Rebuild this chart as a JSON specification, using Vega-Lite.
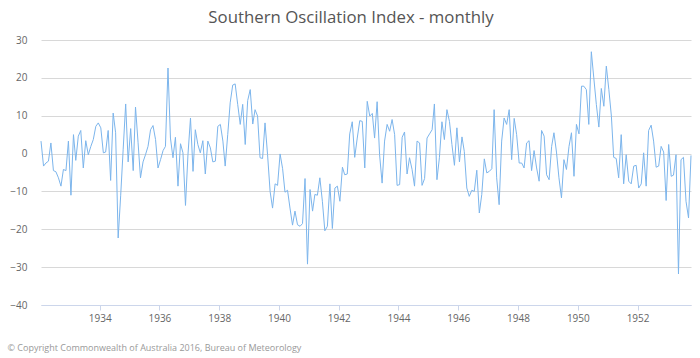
{
  "$schema": "https://vega.github.io/schema/vega-lite/v6.json",
  "width": 650,
  "height": 265,
  "autosize": {"type": "none"},
  "padding": {"left": 41, "top": 40, "right": 9, "bottom": 53},
  "background": "white",
  "title": {"text": "Southern Oscillation Index - monthly", "font": "Open Sans", "fontSize": 16.8, "fontWeight": "normal", "color": "#555555", "anchor": "middle", "baseline": "alphabetic", "offset": 9, "dy": 14, "dx": -15},
  "datasets": {
    "soi": [
      {"date":"1932-01-15","soi":3.3},{"date":"1932-02-15","soi":-3.3},{"date":"1932-03-15","soi":-2.5},{"date":"1932-04-15","soi":-2.0},{"date":"1932-05-15","soi":2.8},{"date":"1932-06-15","soi":-4.5},{"date":"1932-07-15","soi":-4.8},{"date":"1932-08-15","soi":-6.4},{"date":"1932-09-15","soi":-8.6},{"date":"1932-10-15","soi":-4.2},{"date":"1932-11-15","soi":-4.5},{"date":"1932-12-15","soi":3.3},
      {"date":"1933-01-15","soi":-11.0},{"date":"1933-02-15","soi":5.0},{"date":"1933-03-15","soi":-1.8},{"date":"1933-04-15","soi":4.6},{"date":"1933-05-15","soi":6.1},{"date":"1933-06-15","soi":-3.8},{"date":"1933-07-15","soi":3.4},{"date":"1933-08-15","soi":-0.3},{"date":"1933-09-15","soi":1.9},{"date":"1933-10-15","soi":3.7},{"date":"1933-11-15","soi":7.2},{"date":"1933-12-15","soi":8.1},
      {"date":"1934-01-15","soi":6.8},{"date":"1934-02-15","soi":0.2},{"date":"1934-03-15","soi":0.4},{"date":"1934-04-15","soi":6.1},{"date":"1934-05-15","soi":-7.1},{"date":"1934-06-15","soi":10.7},{"date":"1934-07-15","soi":5.5},{"date":"1934-08-15","soi":-22.3},{"date":"1934-09-15","soi":-11.0},{"date":"1934-10-15","soi":1.0},{"date":"1934-11-15","soi":13.1},{"date":"1934-12-15","soi":-2.2},
      {"date":"1935-01-15","soi":6.6},{"date":"1935-02-15","soi":-4.5},{"date":"1935-03-15","soi":12.3},{"date":"1935-04-15","soi":3.0},{"date":"1935-05-15","soi":-6.4},{"date":"1935-06-15","soi":-2.2},{"date":"1935-07-15","soi":-0.3},{"date":"1935-08-15","soi":1.9},{"date":"1935-09-15","soi":6.3},{"date":"1935-10-15","soi":7.4},{"date":"1935-11-15","soi":3.7},{"date":"1935-12-15","soi":-3.8},
      {"date":"1936-01-15","soi":-1.6},{"date":"1936-02-15","soi":0.8},{"date":"1936-03-15","soi":1.9},{"date":"1936-04-15","soi":22.6},{"date":"1936-05-15","soi":4.1},{"date":"1936-06-15","soi":-1.1},{"date":"1936-07-15","soi":4.3},{"date":"1936-08-15","soi":-8.6},{"date":"1936-09-15","soi":2.6},{"date":"1936-10-15","soi":0.2},{"date":"1936-11-15","soi":-13.7},{"date":"1936-12-15","soi":-0.3},
      {"date":"1937-01-15","soi":9.4},{"date":"1937-02-15","soi":-4.7},{"date":"1937-03-15","soi":6.3},{"date":"1937-04-15","soi":2.4},{"date":"1937-05-15","soi":0.2},{"date":"1937-06-15","soi":3.4},{"date":"1937-07-15","soi":-5.4},{"date":"1937-08-15","soi":3.3},{"date":"1937-09-15","soi":1.5},{"date":"1937-10-15","soi":-2.2},{"date":"1937-11-15","soi":-2.0},{"date":"1937-12-15","soi":7.2},
      {"date":"1938-01-15","soi":7.7},{"date":"1938-02-15","soi":3.3},{"date":"1938-03-15","soi":-3.3},{"date":"1938-04-15","soi":5.0},{"date":"1938-05-15","soi":13.4},{"date":"1938-06-15","soi":18.1},{"date":"1938-07-15","soi":18.4},{"date":"1938-08-15","soi":13.0},{"date":"1938-09-15","soi":7.7},{"date":"1938-10-15","soi":13.0},{"date":"1938-11-15","soi":2.4},{"date":"1938-12-15","soi":14.0},
      {"date":"1939-01-15","soi":16.9},{"date":"1939-02-15","soi":7.8},{"date":"1939-03-15","soi":11.6},{"date":"1939-04-15","soi":9.9},{"date":"1939-05-15","soi":-1.1},{"date":"1939-06-15","soi":-1.3},{"date":"1939-07-15","soi":8.1},{"date":"1939-08-15","soi":-0.3},{"date":"1939-09-15","soi":-10.0},{"date":"1939-10-15","soi":-14.4},{"date":"1939-11-15","soi":-8.0},{"date":"1939-12-15","soi":-8.4},
      {"date":"1940-01-15","soi":-0.1},{"date":"1940-02-15","soi":-4.0},{"date":"1940-03-15","soi":-10.2},{"date":"1940-04-15","soi":-9.7},{"date":"1940-05-15","soi":-14.4},{"date":"1940-06-15","soi":-18.9},{"date":"1940-07-15","soi":-15.2},{"date":"1940-08-15","soi":-18.8},{"date":"1940-09-15","soi":-19.2},{"date":"1940-10-15","soi":-18.5},{"date":"1940-11-15","soi":-6.6},{"date":"1940-12-15","soi":-29.2},
      {"date":"1941-01-15","soi":-9.5},{"date":"1941-02-15","soi":-15.2},{"date":"1941-03-15","soi":-10.8},{"date":"1941-04-15","soi":-11.0},{"date":"1941-05-15","soi":-6.4},{"date":"1941-06-15","soi":-12.6},{"date":"1941-07-15","soi":-20.4},{"date":"1941-08-15","soi":-19.2},{"date":"1941-09-15","soi":-8.0},{"date":"1941-10-15","soi":-19.8},{"date":"1941-11-15","soi":-9.1},{"date":"1941-12-15","soi":-8.6},
      {"date":"1942-01-15","soi":-12.6},{"date":"1942-02-15","soi":-3.6},{"date":"1942-03-15","soi":-5.6},{"date":"1942-04-15","soi":-5.4},{"date":"1942-05-15","soi":5.2},{"date":"1942-06-15","soi":8.4},{"date":"1942-07-15","soi":-1.0},{"date":"1942-08-15","soi":4.1},{"date":"1942-09-15","soi":8.7},{"date":"1942-10-15","soi":8.5},{"date":"1942-11-15","soi":-3.8},{"date":"1942-12-15","soi":13.8},
      {"date":"1943-01-15","soi":9.9},{"date":"1943-02-15","soi":10.6},{"date":"1943-03-15","soi":4.1},{"date":"1943-04-15","soi":13.7},{"date":"1943-05-15","soi":-0.3},{"date":"1943-06-15","soi":-7.8},{"date":"1943-07-15","soi":3.3},{"date":"1943-08-15","soi":7.7},{"date":"1943-09-15","soi":5.9},{"date":"1943-10-15","soi":9.0},{"date":"1943-11-15","soi":5.0},{"date":"1943-12-15","soi":-8.4},
      {"date":"1944-01-15","soi":-8.2},{"date":"1944-02-15","soi":4.3},{"date":"1944-03-15","soi":5.7},{"date":"1944-04-15","soi":-5.4},{"date":"1944-05-15","soi":-1.1},{"date":"1944-06-15","soi":-4.2},{"date":"1944-07-15","soi":-8.6},{"date":"1944-08-15","soi":3.3},{"date":"1944-09-15","soi":2.8},{"date":"1944-10-15","soi":-8.4},{"date":"1944-11-15","soi":-6.6},{"date":"1944-12-15","soi":4.1},
      {"date":"1945-01-15","soi":5.2},{"date":"1945-02-15","soi":6.3},{"date":"1945-03-15","soi":13.1},{"date":"1945-04-15","soi":-6.9},{"date":"1945-05-15","soi":-1.1},{"date":"1945-06-15","soi":8.4},{"date":"1945-07-15","soi":3.7},{"date":"1945-08-15","soi":11.6},{"date":"1945-09-15","soi":8.5},{"date":"1945-10-15","soi":2.4},{"date":"1945-11-15","soi":-3.1},{"date":"1945-12-15","soi":6.8},
      {"date":"1946-01-15","soi":-2.2},{"date":"1946-02-15","soi":4.4},{"date":"1946-03-15","soi":0.6},{"date":"1946-04-15","soi":-9.1},{"date":"1946-05-15","soi":-11.3},{"date":"1946-06-15","soi":-9.7},{"date":"1946-07-15","soi":-10.0},{"date":"1946-08-15","soi":-4.4},{"date":"1946-09-15","soi":-15.7},{"date":"1946-10-15","soi":-10.8},{"date":"1946-11-15","soi":-1.4},{"date":"1946-12-15","soi":-5.1},
      {"date":"1947-01-15","soi":-4.7},{"date":"1947-02-15","soi":-4.0},{"date":"1947-03-15","soi":11.6},{"date":"1947-04-15","soi":-6.4},{"date":"1947-05-15","soi":-13.5},{"date":"1947-06-15","soi":3.3},{"date":"1947-07-15","soi":9.4},{"date":"1947-08-15","soi":7.7},{"date":"1947-09-15","soi":11.6},{"date":"1947-10-15","soi":-1.6},{"date":"1947-11-15","soi":9.3},{"date":"1947-12-15","soi":5.0},
      {"date":"1948-01-15","soi":-2.5},{"date":"1948-02-15","soi":-2.5},{"date":"1948-03-15","soi":-3.8},{"date":"1948-04-15","soi":2.8},{"date":"1948-05-15","soi":3.4},{"date":"1948-06-15","soi":-4.5},{"date":"1948-07-15","soi":0.8},{"date":"1948-08-15","soi":-3.8},{"date":"1948-09-15","soi":-7.3},{"date":"1948-10-15","soi":6.1},{"date":"1948-11-15","soi":4.6},{"date":"1948-12-15","soi":-5.6},
      {"date":"1949-01-15","soi":-6.9},{"date":"1949-02-15","soi":1.9},{"date":"1949-03-15","soi":5.5},{"date":"1949-04-15","soi":0.4},{"date":"1949-05-15","soi":-6.4},{"date":"1949-06-15","soi":-11.7},{"date":"1949-07-15","soi":-1.6},{"date":"1949-08-15","soi":-4.2},{"date":"1949-09-15","soi":1.9},{"date":"1949-10-15","soi":5.5},{"date":"1949-11-15","soi":-6.0},{"date":"1949-12-15","soi":7.7},
      {"date":"1950-01-15","soi":5.2},{"date":"1950-02-15","soi":17.8},{"date":"1950-03-15","soi":17.8},{"date":"1950-04-15","soi":16.9},{"date":"1950-05-15","soi":7.7},{"date":"1950-06-15","soi":26.9},{"date":"1950-07-15","soi":20.0},{"date":"1950-08-15","soi":13.0},{"date":"1950-09-15","soi":7.0},{"date":"1950-10-15","soi":17.2},{"date":"1950-11-15","soi":12.5},{"date":"1950-12-15","soi":23.1},
      {"date":"1951-01-15","soi":16.9},{"date":"1951-02-15","soi":9.9},{"date":"1951-03-15","soi":-1.0},{"date":"1951-04-15","soi":-1.3},{"date":"1951-05-15","soi":-6.4},{"date":"1951-06-15","soi":5.0},{"date":"1951-07-15","soi":-8.0},{"date":"1951-08-15","soi":-0.3},{"date":"1951-09-15","soi":-7.3},{"date":"1951-10-15","soi":-8.0},{"date":"1951-11-15","soi":-3.3},{"date":"1951-12-15","soi":-3.1},
      {"date":"1952-01-15","soi":-9.1},{"date":"1952-02-15","soi":-8.0},{"date":"1952-03-15","soi":0.2},{"date":"1952-04-15","soi":-8.6},{"date":"1952-05-15","soi":6.1},{"date":"1952-06-15","soi":7.5},{"date":"1952-07-15","soi":3.3},{"date":"1952-08-15","soi":-3.6},{"date":"1952-09-15","soi":-3.3},{"date":"1952-10-15","soi":1.9},{"date":"1952-11-15","soi":0.4},{"date":"1952-12-15","soi":-12.4},
      {"date":"1953-01-15","soi":2.4},{"date":"1953-02-15","soi":-6.0},{"date":"1953-03-15","soi":-5.7},{"date":"1953-04-15","soi":-0.3},{"date":"1953-05-15","soi":-31.8},{"date":"1953-06-15","soi":-1.6},{"date":"1953-07-15","soi":-1.0},{"date":"1953-08-15","soi":-12.6},{"date":"1953-09-15","soi":-17.0},{"date":"1953-10-15","soi":-0.5}
    ]
  },
  "data": {"name": "soi"},
  "mark": {"type": "line", "color": "#7cb5ec", "strokeWidth": 1, "interpolate": "linear"},
  "encoding": {
    "x": {
      "field": "date",
      "type": "temporal",
      "scale": {"type": "utc", "nice": false},
      "axis": {
        "format": "%Y",
        "tickCount": {"interval": "year", "step": 2},
        "grid": false,
        "domainColor": "#ccd6eb",
        "tickColor": "#ccd6eb",
        "tickSize": 5,
        "labelFont": "Open Sans",
        "labelFontSize": 10,
        "labelColor": "#666666",
        "labelPadding": 3,
        "labelFlush": false,
        "title": "© Copyright Commonwealth of Australia 2016, Bureau of Meteorology",
        "titleFont": "Open Sans",
        "titleFontSize": 9,
        "titleFontWeight": "normal",
        "titleColor": "#999999",
        "titleAnchor": "start",
        "titleAlign": "left",
        "titleX": -34,
        "titleY": 42,
        "titleBaseline": "middle"
      }
    },
    "y": {
      "field": "soi",
      "type": "quantitative",
      "scale": {"domain": [-40, 30], "nice": false},
      "axis": {
        "values": [-40, -30, -20, -10, 0, 10, 20, 30],
        "grid": true,
        "gridColor": "#d8d8d8",
        "domain": false,
        "ticks": false,
        "labelFont": "Open Sans",
        "labelFontSize": 10,
        "labelColor": "#666666",
        "labelPadding": 14,
        "title": null
      }
    }
  },
  "config": {"view": {"stroke": null}}
}
